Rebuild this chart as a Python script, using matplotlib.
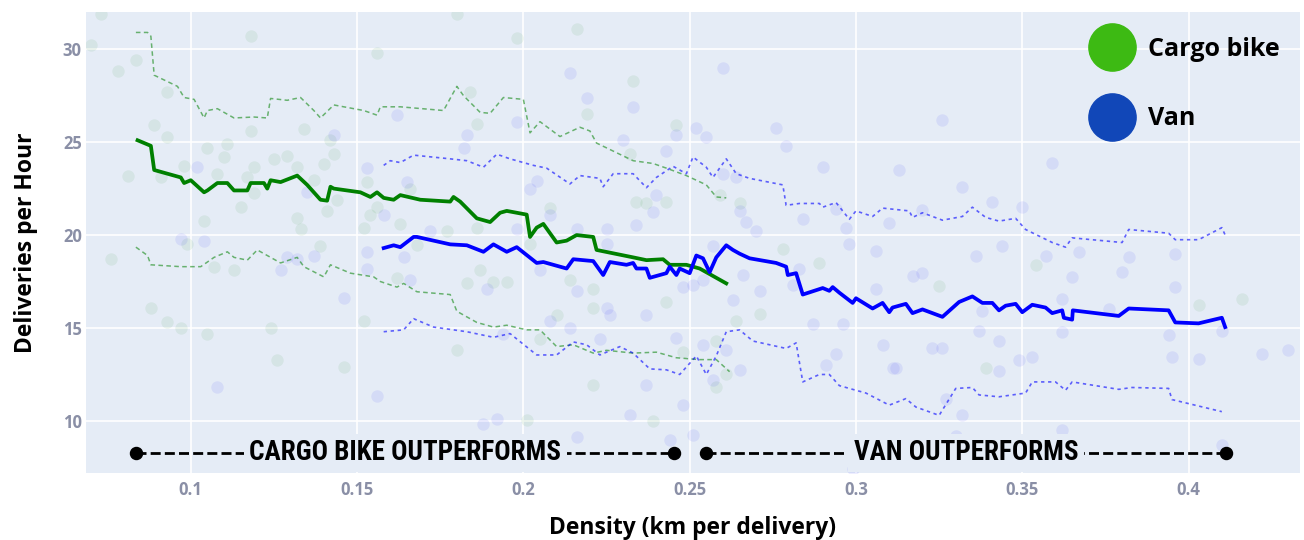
import matplotlib.pyplot as plt
from matplotlib.lines import Line2D

# --- valores ---
bike_mid_x = [0.084, 0.088, 0.089, 0.097, 0.098, 0.100, 0.104, 0.105, 0.108, 0.111, 0.113, 0.117,
              0.118, 0.122, 0.123, 0.124, 0.127, 0.132, 0.135, 0.137, 0.139, 0.141, 0.142, 0.143,
              0.151, 0.154, 0.156, 0.158, 0.161, 0.163, 0.169, 0.178, 0.179, 0.181, 0.186, 0.190,
              0.193, 0.195, 0.201, 0.202, 0.204, 0.206, 0.210, 0.213, 0.216, 0.221, 0.222, 0.233,
              0.237, 0.242, 0.244, 0.249, 0.253, 0.257, 0.261]
bike_mid_y = [25.1, 24.8, 23.5, 23.1, 22.8, 22.95, 22.3, 22.4, 22.8, 22.8, 22.4, 22.4,
              22.8, 22.8, 22.5, 22.95, 22.85, 23.2, 22.7, 22.3, 21.9, 21.85, 22.6, 22.5,
              22.3, 22.05, 22.3, 22.0, 21.9, 22.15, 21.9, 21.8, 22.05, 21.8, 20.9, 20.7,
              21.2, 21.3, 21.1, 19.9, 20.4, 20.6, 19.6, 19.7, 20.0, 19.9, 19.2, 18.8,
              18.65, 18.7, 18.4, 18.4, 18.2, 17.8, 17.4]

bike_hi_x = [0.0835, 0.087, 0.088, 0.089, 0.096, 0.098, 0.101, 0.104, 0.105, 0.108, 0.113, 0.119,
             0.123, 0.124, 0.129, 0.133, 0.137, 0.139, 0.143, 0.152, 0.156, 0.157, 0.163, 0.176,
             0.180, 0.182, 0.187, 0.190, 0.194, 0.200, 0.202, 0.205, 0.211, 0.217, 0.220, 0.222,
             0.233, 0.239, 0.243, 0.249, 0.255, 0.258, 0.261]
bike_hi_y = [30.9, 30.9, 30.7, 28.6, 28.0, 27.4, 27.3, 26.3, 26.7, 26.8, 26.3, 26.35,
             26.3, 27.35, 27.25, 27.4, 26.7, 26.3, 27.0, 26.7, 26.45, 26.9, 26.9, 26.7,
             28.0, 27.5, 26.6, 26.55, 27.4, 27.3, 25.5, 26.1, 25.3, 25.8, 25.6, 24.95,
             24.0, 23.85, 23.6, 23.2, 22.7, 22.05, 22.0]

bike_lo_x = [0.0835, 0.087, 0.088, 0.097, 0.103, 0.107, 0.111, 0.113, 0.117, 0.120, 0.124, 0.127,
             0.132, 0.134, 0.140, 0.142, 0.148, 0.155, 0.157, 0.162, 0.164, 0.168, 0.178, 0.180,
             0.186, 0.191, 0.195, 0.201, 0.205, 0.210, 0.215, 0.221, 0.225, 0.233, 0.240, 0.246,
             0.253, 0.258, 0.262]
bike_lo_y = [19.35, 18.9, 18.4, 18.3, 18.3, 18.8, 19.1, 18.8, 18.65, 19.2, 18.8, 18.5,
             18.8, 18.3, 17.75, 18.4, 17.95, 17.75, 17.5, 17.2, 17.4, 16.95, 16.8, 15.9,
             15.3, 15.05, 15.15, 14.9, 14.9, 14.0, 14.1, 13.65, 13.8, 13.65, 13.7, 13.4,
             13.3, 13.3, 12.65]

van_mid_x = [0.158, 0.161, 0.163, 0.167, 0.168, 0.178, 0.183, 0.188, 0.191, 0.195, 0.198, 0.204,
             0.206, 0.213, 0.215, 0.221, 0.224, 0.226, 0.231, 0.233, 0.234, 0.237, 0.238, 0.243,
             0.244, 0.246, 0.247, 0.250, 0.252, 0.254, 0.256, 0.258, 0.261, 0.263, 0.265, 0.268,
             0.276, 0.279, 0.2795, 0.282, 0.284, 0.290, 0.292, 0.293, 0.295, 0.299, 0.300, 0.305,
             0.308, 0.310, 0.311, 0.315, 0.317, 0.320, 0.326, 0.331, 0.335, 0.338, 0.341, 0.343,
             0.345, 0.348, 0.350, 0.353, 0.357, 0.359, 0.362, 0.3625, 0.365, 0.3652, 0.379, 0.382,
             0.394, 0.396, 0.403, 0.410, 0.411]
van_mid_y = [19.3, 19.45, 19.35, 19.9, 19.9, 19.5, 19.45, 19.1, 19.5, 19.1, 19.35, 18.5,
             18.55, 18.2, 18.7, 18.6, 17.85, 18.55, 18.4, 18.5, 18.2, 18.2, 17.7, 17.95,
             18.3, 17.85, 18.2, 17.95, 18.9, 18.75, 18.0, 18.8, 19.45, 19.2, 19.0, 18.75,
             18.5, 18.3, 17.85, 17.95, 16.8, 17.15, 17.0, 17.2, 16.9, 16.35, 16.6, 16.05,
             16.35, 15.85, 16.1, 16.3, 15.8, 16.0, 15.6, 16.4, 16.7, 16.35, 16.35, 15.95,
             16.2, 16.3, 15.85, 16.25, 16.1, 15.8, 15.95, 15.55, 15.45, 15.95, 15.65, 16.05,
             15.95, 15.3, 15.25, 15.55, 15.05]

van_hi_x = [0.158, 0.160, 0.163, 0.167, 0.178, 0.183, 0.188, 0.192, 0.196, 0.203, 0.207, 0.214,
            0.217, 0.223, 0.224, 0.227, 0.233, 0.237, 0.240, 0.245, 0.249, 0.251, 0.255, 0.257,
            0.261, 0.264, 0.268, 0.278, 0.279, 0.283, 0.289, 0.290, 0.294, 0.298, 0.300, 0.305,
            0.308, 0.316, 0.317, 0.320, 0.326, 0.332, 0.335, 0.339, 0.343, 0.348, 0.351, 0.359,
            0.363, 0.365, 0.380, 0.382, 0.394, 0.396, 0.403, 0.410, 0.411]
van_hi_y = [23.75, 24.0, 23.9, 24.3, 24.1, 24.0, 23.65, 24.35, 24.1, 23.75, 23.6, 22.75,
            23.2, 23.05, 22.6, 23.3, 23.3, 22.55, 23.1, 23.7, 23.3, 24.2, 23.65, 23.1,
            24.1, 23.3, 23.05, 22.7, 21.6, 21.7, 21.7, 21.5, 21.75, 20.85, 21.3, 21.0,
            21.45, 21.3, 20.95, 21.2, 20.8, 21.0, 21.5, 20.95, 20.75, 20.9, 20.3, 19.6,
            19.35, 19.85, 19.6, 20.3, 20.1, 19.75, 19.75, 20.4, 20.0]

van_lo_x = [0.158, 0.164, 0.167, 0.173, 0.183, 0.191, 0.196, 0.204, 0.210, 0.215, 0.219, 0.223,
            0.229, 0.233, 0.238, 0.243, 0.247, 0.252, 0.255, 0.258, 0.261, 0.265, 0.269, 0.279,
            0.282, 0.284, 0.289, 0.292, 0.295, 0.303, 0.310, 0.315, 0.318, 0.325, 0.330, 0.335,
            0.337, 0.343, 0.351, 0.353, 0.360, 0.363, 0.365, 0.379, 0.383, 0.394, 0.395, 0.410]
van_lo_y = [14.8, 14.9, 15.5, 15.05, 14.8, 14.5, 14.7, 13.55, 13.55, 14.25, 14.1, 13.55,
            14.0, 13.65, 12.8, 12.75, 12.5, 13.5, 12.5, 13.5, 14.8, 14.9, 14.3, 13.9,
            14.2, 12.1, 12.5, 12.5, 11.9, 11.5, 10.85, 11.2, 10.75, 10.3, 11.75, 11.8,
            11.4, 11.3, 11.5, 12.1, 12.1, 11.65, 12.1, 11.7, 11.8, 11.75, 11.15, 10.5]

# pontos individuais (entregas)
bike_pts_x = [0.073, 0.070, 0.078, 0.0835, 0.118, 0.156, 0.180, 0.093, 0.184, 0.089, 0.093, 0.118,
              0.134, 0.186, 0.081, 0.091, 0.098, 0.105, 0.111, 0.110, 0.108, 0.117, 0.119, 0.125,
              0.129, 0.132, 0.140, 0.143, 0.142, 0.137, 0.119, 0.115, 0.104, 0.132, 0.133, 0.141,
              0.144, 0.152, 0.154, 0.156, 0.163, 0.166, 0.177, 0.186, 0.153,
              0.076, 0.088, 0.093, 0.097, 0.105, 0.124, 0.126, 0.146, 0.152, 0.162, 0.183, 0.180,
              0.187, 0.113, 0.107, 0.099, 0.139, 0.168,
              0.198, 0.216, 0.233, 0.219, 0.246, 0.232, 0.234, 0.237, 0.243, 0.265, 0.208, 0.259,
              0.202, 0.191, 0.195, 0.214, 0.221, 0.221, 0.243, 0.210, 0.205, 0.248, 0.258, 0.264,
              0.271, 0.278, 0.289, 0.221, 0.239, 0.201, 0.258, 0.261,
              0.325, 0.354, 0.403, 0.416, 0.339]
bike_pts_y = [31.9, 30.2, 28.8, 29.4, 30.7, 29.8, 31.9, 27.7, 27.7, 25.9, 25.3, 25.6,
              25.7, 26.0, 23.2, 23.1, 23.7, 24.7, 24.9, 24.2, 23.3, 23.1, 23.65, 24.1,
              24.25, 23.65, 23.8, 24.35, 25.1, 22.95, 22.25, 21.5, 20.75, 20.9, 20.3, 21.3,
              21.9, 20.4, 21.1, 21.5, 20.6, 22.5, 20.2, 20.4, 22.85,
              18.7, 16.1, 15.3, 15.0, 14.7, 15.0, 13.3, 12.9, 15.4, 17.7, 17.4, 13.8,
              18.1, 18.1, 18.3, 19.5, 19.4, 19.45,
              30.6, 31.1, 28.3, 26.5, 25.9, 24.35, 21.8, 21.7, 21.8, 21.75, 21.45, 22.15,
              19.5, 17.5, 17.5, 17.6, 17.1, 16.1, 16.4, 15.7, 14.4, 13.7, 14.3, 15.4,
              15.75, 19.25, 18.5, 11.95, 10.0, 10.05, 11.8, 12.5,
              17.25, 18.4, 16.25, 16.55, 12.85]

van_pts_x = [0.162, 0.143, 0.183, 0.182, 0.102, 0.153, 0.135, 0.165, 0.158, 0.172, 0.097, 0.104,
             0.129, 0.127, 0.132, 0.137, 0.153, 0.153, 0.164, 0.166, 0.146, 0.108, 0.156, 0.188,
             0.189,
             0.214, 0.260, 0.219, 0.233, 0.198, 0.230, 0.246, 0.252, 0.255, 0.243, 0.276, 0.279,
             0.290, 0.204, 0.202, 0.260, 0.264, 0.240, 0.239, 0.265, 0.267, 0.270, 0.284, 0.294,
             0.297, 0.310, 0.234, 0.225, 0.208, 0.216, 0.198,
             0.225, 0.205, 0.216, 0.225, 0.226, 0.237, 0.208, 0.214, 0.223, 0.194, 0.246, 0.254,
             0.261, 0.265, 0.248, 0.251, 0.254, 0.263, 0.266, 0.271, 0.257, 0.281, 0.283, 0.287,
             0.296, 0.308, 0.311, 0.294, 0.291, 0.306, 0.306, 0.298, 0.237, 0.248, 0.232, 0.192,
             0.216, 0.244, 0.251, 0.257, 0.304, 0.299,
             0.326, 0.313, 0.359, 0.332, 0.341, 0.350, 0.320,
             0.344, 0.336, 0.357, 0.367, 0.382, 0.396, 0.317, 0.320, 0.365, 0.380, 0.396, 0.362,
             0.338, 0.376, 0.337, 0.343, 0.362, 0.394, 0.323, 0.326, 0.349, 0.353, 0.395, 0.403,
             0.410, 0.422, 0.430, 0.343, 0.312, 0.327, 0.332, 0.330, 0.339, 0.362, 0.365, 0.410]
van_pts_y = [26.45, 25.4, 25.4, 24.7, 23.65, 23.6, 22.3, 22.85, 21.1, 20.2, 19.8, 19.7,
             18.8, 18.1, 18.7, 18.9, 19.1, 18.2, 18.8, 17.6, 16.6, 11.8, 11.35, 9.85,
             17.1,
             28.7, 29.0, 27.4, 26.9, 26.1, 25.1, 25.4, 25.75, 25.3, 24.5, 25.75, 24.8,
             23.65, 22.9, 22.5, 23.3, 23.1, 22.15, 21.25, 21.3, 20.7, 20.2, 20.85, 21.4,
             20.4, 20.65, 20.55, 20.3, 21.1, 20.3, 20.3,
             19.5, 18.1, 17.0, 16.1, 15.7, 15.7, 15.4, 15.0, 14.4, 14.7, 14.45, 14.1,
             13.8, 12.75, 17.2, 17.3, 17.6, 16.5, 17.85, 17.0, 19.4, 17.3, 18.2, 15.2,
             15.2, 14.1, 12.85, 13.6, 13.0, 17.1, 19.15, 19.5, 11.95, 10.85, 10.3, 10.1,
             9.15, 9.0, 9.25, 12.2, 9.0, 7.4,
             26.2, 23.5, 23.9, 22.6, 21.8, 21.5, 21.35,
             19.4, 18.9, 18.9, 19.1, 18.8, 19.0, 17.8, 17.95, 17.75, 18.0, 17.2, 16.55,
             15.9, 16.0, 14.85, 14.3, 14.8, 14.6, 13.9, 13.9, 13.3, 13.45, 13.45, 13.35,
             14.85, 13.6, 13.8, 12.7, 12.85, 11.2, 10.3, 9.2, 8.9, 9.5, 9.0, 8.7]

x_ticks = [0.1, 0.15, 0.2, 0.25, 0.3, 0.35, 0.4]
x_tick_labels = ["0.1", "0.15", "0.2", "0.25", "0.3", "0.35", "0.4"]
y_ticks = [10, 15, 20, 25, 30]

zones = ["CARGO BIKE OUTPERFORMS", "VAN OUTPERFORMS"]
zone_start = [0.0835, 0.255]
zone_end = [0.2454, 0.4114]
zone_y = 8.28

bg = "#E5ECF6"
fig = plt.figure(figsize=(13.04, 5.4), dpi=100)
ax = fig.add_axes([86 / 1304, 1 - 473 / 540, 1214 / 1304, 461 / 540])
ax.set_facecolor(bg)
for s in ax.spines.values():
    s.set_visible(False)
ax.grid(True, color="white", linewidth=1.2)
ax.set_axisbelow(True)

ax.scatter(bike_pts_x, bike_pts_y, s=80, color="green", alpha=0.065, linewidths=0, zorder=1)
ax.scatter(van_pts_x, van_pts_y, s=80, color="blue", alpha=0.07, linewidths=0, zorder=1)

ax.plot(bike_hi_x, bike_hi_y, color="green", alpha=0.55, lw=1.1, ls=(0, (3, 2.2)), zorder=2)
ax.plot(bike_lo_x, bike_lo_y, color="green", alpha=0.55, lw=1.1, ls=(0, (3, 2.2)), zorder=2)
ax.plot(van_hi_x, van_hi_y, color="blue", alpha=0.6, lw=1.2, ls=(0, (2, 2.2)), zorder=2)
ax.plot(van_lo_x, van_lo_y, color="blue", alpha=0.6, lw=1.2, ls=(0, (2, 2.2)), zorder=2)
ax.plot(bike_mid_x, bike_mid_y, color="green", lw=2.7, zorder=3)
ax.plot(van_mid_x, van_mid_y, color="blue", lw=2.7, zorder=3)

# faixas "outperforms"
narrow = ["Liberation Sans Narrow", "Roboto Condensed", "DejaVu Sans"]
for nome, a, b in zip(zones, zone_start, zone_end):
    ax.plot([a, b], [zone_y, zone_y], color="black", lw=2.0, ls=(0, (3.6, 1.5)), zorder=4)
    ax.scatter([a, b], [zone_y, zone_y], s=75, color="black", zorder=5)
    ax.text((a + b) / 2, zone_y, nome, ha="center", va="center", fontsize=19.5,
            fontweight="bold", family=narrow, zorder=6,
            bbox=dict(facecolor=bg, edgecolor="none", pad=4))

ax.set_xlim(0.0685, 0.4335)
ax.set_ylim(7.2, 32.0)
ax.set_xticks(x_ticks)
ax.set_xticklabels(x_tick_labels)
ax.set_yticks(y_ticks)
ax.tick_params(length=0, labelsize=12, labelcolor="#8a8fa6", pad=6)
for lab in ax.get_xticklabels() + ax.get_yticklabels():
    lab.set_fontweight("bold")
    lab.set_family(["Open Sans", "DejaVu Sans"])
ax.tick_params(axis="y", pad=3)

ax.set_xlabel("Density (km per delivery)", fontsize=16.5, fontweight="bold",
              family=["Open Sans", "DejaVu Sans"], labelpad=12)
ax.set_ylabel("Deliveries per Hour", fontsize=16.5, fontweight="bold",
              family=["Open Sans", "DejaVu Sans"], labelpad=18)

handles = [Line2D([], [], marker="o", ls="", ms=34, color="#3dba13", label="Cargo bike"),
           Line2D([], [], marker="o", ls="", ms=34, color="#1147b8", label="Van")]
leg = ax.legend(handles=handles, loc="upper right", bbox_to_anchor=(1.012, 1.022), frameon=False,
                prop={"family": ["Open Sans", "DejaVu Sans"], "weight": "bold", "size": 18},
                handlelength=1.0, handletextpad=0.95, labelspacing=1.78, borderpad=0.9)

fig.savefig("out.png", dpi=100)
